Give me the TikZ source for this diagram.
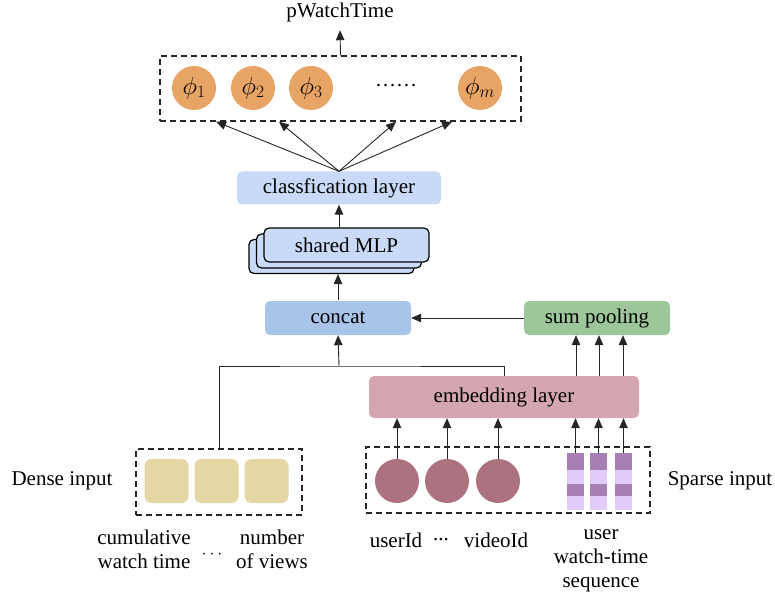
\documentclass[tikz,border=0pt]{standalone}
\usepackage{fontspec}
\setmainfont{Liberation Serif}
\usetikzlibrary{arrows.meta}
\definecolor{phiOrange}{HTML}{E8A465}
\definecolor{clsBlue}{HTML}{C9DAF8}
\definecolor{catBlue}{HTML}{A8C4E9}
\definecolor{sumGreen}{HTML}{9DC69A}
\definecolor{embPink}{HTML}{D4A6B1}
\definecolor{denseSand}{HTML}{E5D6A6}
\definecolor{idMauve}{HTML}{AD727F}
\definecolor{seqDark}{HTML}{A680B5}
\definecolor{seqLight}{HTML}{E2CCFB}
\newcommand{\figFont}{\fontsize{21}{24}\selectfont}

\begin{document}
\begin{tikzpicture}[x=1pt,y=-1pt,
  every node/.style={font=\figFont, inner sep=2pt},
  arr/.style={draw=black!85, line width=0.9pt, -{Triangle[length=10pt,width=8.5pt]}},
  wire/.style={draw=black!85, line width=0.9pt},
  dashBox/.style={draw=black!85, line width=1.4pt, dash pattern=on 6pt off 4pt},
  layerBox/.style={rounded corners=5pt, minimum height=34pt},
  mlpBox/.style={draw=black, line width=1.2pt, fill=clsBlue, rounded corners=5pt,
                 minimum width=165pt, minimum height=34pt},
  phiBall/.style={circle, fill=phiOrange, minimum size=44pt, inner sep=0pt,
                  font=\fontsize{25}{28}\selectfont},
  idBall/.style={circle, fill=idMauve, minimum size=44pt, inner sep=0pt},
  denseCell/.style={fill=denseSand, rounded corners=7pt, minimum width=44pt, minimum height=44pt}]
  \useasboundingbox (0,0) rectangle (775,601);

  % Output
  \node[inner sep=8.5pt] (out) at (340,12) {pWatchTime};
  \node[dashBox, minimum width=361pt, minimum height=65pt] (phiBox) at (340.5,88.5) {};
  \node[phiBall] (phi1) at (194,88) {$\phi_1$};
  \node[phiBall] (phi2) at (253,88) {$\phi_2$};
  \node[phiBall] (phi3) at (311,88) {$\phi_3$};
  \node (phiDots) at (396,86) {\dots\dots};
  \node[phiBall] (phim) at (480,88) {$\phi_m$};
  \draw[arr] (phiBox.north) -- (out.south);

  % Classification and MLP
  \node[layerBox, fill=clsBlue, minimum width=204pt, minimum height=33pt] (cls) at (339,188) {classfication layer};
  \foreach \x in {216,279,396,452}
    \draw[arr] (cls.north) -- (phiBox.south -| \x,0);
  \node[mlpBox] (mlpC) at (331.5,256.5) {};
  \node[mlpBox] (mlpB) at (339,251) {};
  \node[mlpBox] (mlpA) at (346.5,245) {shared MLP};
  \draw[arr] (cls.south |- mlpA.north) -- (cls.south);

  % Concat and pooling
  \node[layerBox, fill=catBlue, minimum width=146pt] (concat) at (338,318) {concat};
  \node[layerBox, fill=sumGreen, minimum width=146pt] (sum) at (597,318) {sum pooling};
  \node[layerBox, fill=embPink, minimum width=270pt, minimum height=42pt] (emb) at (504,397) {embedding layer};
  \draw[arr] (concat.north |- mlpC.south) ++(0,26) -- (concat.north |- mlpC.south);
  \draw[arr] (sum.west) -- (concat.east);
  \foreach \x in {576,599,623}
    \draw[arr] (emb.north -| \x,0) -- (sum.south -| \x,0);

  % Dense input
  \node[dashBox, minimum width=166pt, minimum height=66pt] (dense) at (219,482) {};
  \node[denseCell] (cell1) at (166.5,481) {};
  \node[denseCell] (cell2) at (216.5,481) {};
  \node[denseCell] (cell3) at (266.5,481) {};
  \node (denseLbl) at (62,481) {Dense input};
  \node[align=center] (cumLbl) at (144,549) {cumulative\\watch time};
  \node (denseDots) at (212,555) {\fontsize{17}{17}\selectfont$\cdots$};
  \node[align=center] (viewLbl) at (272,549) {number\\of views};

  % Merge into concat
  \coordinate (mergePt) at (339,366);
  \draw[wire] (dense.north) |- (mergePt) -| (emb.north);
  \draw[arr] (mergePt) -- (concat.south);

  % Sparse input
  \node[dashBox, minimum width=284pt, minimum height=66pt] (sparse) at (508,480) {};
  \node[idBall] (user) at (397,481) {};
  \node[idBall] (idMid) at (447,481) {};
  \node[idBall] (video) at (498,481) {};
  \foreach \b/\x in {seq1/575.5,seq2/598.5,seq3/623.5} {
    \fill[seqLight] (\x-8.5,453) rectangle (\x+8.5,510);
    \fill[seqDark] (\x-8.5,453) rectangle (\x+8.5,470);
    \fill[seqDark] (\x-8.5,484) rectangle (\x+8.5,496);
    \coordinate (\b) at (\x,453);
  }
  \foreach \n in {user,idMid,video}
    \draw[arr] (\n.north) -- (emb.south -| \n.north);
  \foreach \n in {seq1,seq2,seq3}
    \draw[arr] (\n) -- (emb.south -| \n);
  \node (sparseLbl) at (720,481) {Sparse input};
  \node (userLbl) at (396,540) {userId};
  \node (idDots) at (441,540) {...};
  \node (videoLbl) at (496,540) {videoId};
  \node[align=center] (seqLbl) at (601,561) {user\\watch-time\\sequence};
\end{tikzpicture}
\end{document}
